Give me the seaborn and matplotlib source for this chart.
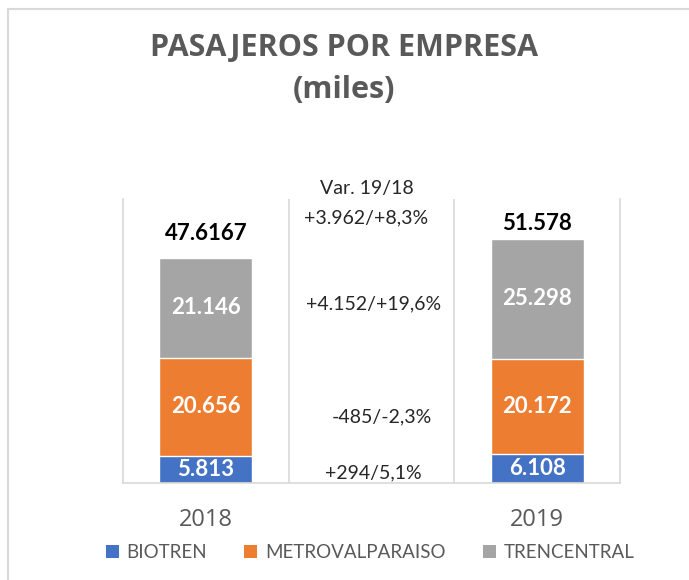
import numpy as np
import pandas as pd
import matplotlib.pyplot as plt
import seaborn as sns
from matplotlib.patches import Patch, Rectangle

# data (miles de pasajeros)
years = ['2018', '2019']
companies = ['BIOTREN', 'METROVALPARAISO', 'TRENCENTRAL']
biotren = [5.813, 6.108]
metroval = [20.656, 20.172]
trencentral = [21.146, 25.298]
total_labels = ['47.6167', '51.578']
segment_labels = [['5.813', '6.108'], ['20.656', '20.172'], ['21.146', '25.298']]
var_title = 'Var. 19/18'
var_labels = ['+3.962/+8,3%', '+4.152/+19,6%', '-485/-2,3%', '+294/5,1%']
colors = ['#4472C4', '#ED7D31', '#A5A5A5']

sns.set_style('white')
plt.rcParams['font.family'] = ['Lato', 'DejaVu Sans']

df = pd.DataFrame({'year': years, 'BIOTREN': biotren,
                   'METROVALPARAISO': metroval, 'TRENCENTRAL': trencentral})
df['c1'] = df['BIOTREN']
df['c2'] = df['c1'] + df['METROVALPARAISO']
df['c3'] = df['c2'] + df['TRENCENTRAL']

order = ['2018', ' ', '2019']

fig = plt.figure(figsize=(6.89, 5.8), dpi=100)
ax = fig.add_axes([0.1785, 0.1672, 0.7214, 0.4897])

# stacked bars: draw tallest first, then overlap
for col, c in zip(['c3', 'c2', 'c1'], colors[::-1]):
    sns.barplot(data=df, x='year', y=col, order=order, color=c, width=0.56,
                saturation=1, errorbar=None, ax=ax)

ax.set_xlim(-0.5, 2.5)
ax.set_ylim(0, 60)
ax.set_yticks([])
ax.set_xlabel('')
ax.set_ylabel('')
ax.set_xticks([0, 2])
ax.set_xticklabels(years, fontsize=17, color='#595959', family=['Open Sans', 'DejaVu Sans'])
ax.tick_params(axis='x', length=0, pad=18)
for s in ['left', 'right', 'bottom']:
    ax.spines[s].set_color('#D9D9D9')
    ax.spines[s].set_linewidth(1.2)
ax.spines['top'].set_visible(False)
for xv in [0.5, 1.5]:
    ax.axvline(xv, color='#D9D9D9', lw=1.2, zorder=0)

# segment labels
xpos = [0, 2]
stack = [df['c1'].values, df['c2'].values, df['c3'].values]
for k in range(3):
    for i in range(2):
        base = stack[k - 1][i] if k > 0 else 0
        ymid = (base + stack[k][i]) / 2
        ax.text(xpos[i], ymid, segment_labels[k][i], ha='center', va='center',
                color='white', fontsize=16, fontweight='bold')

# totals
total_gap = [5.0, 3.2]
for i in range(2):
    ax.text(xpos[i], stack[2][i] + total_gap[i], total_labels[i], ha='center',
            va='center', color='black', fontsize=16, fontweight='bold', clip_on=False)

# variation notes in the empty middle slot
ax.text(0.97, 62.2, var_title, ha='center', va='center', fontsize=14, clip_on=False)
var_pos = [(0.97, 56.0), (1.01, 37.8), (1.06, 14.0), (1.01, 2.1)]
for (vx, vy), t in zip(var_pos, var_labels):
    ax.text(vx, vy, t, ha='center', va='center', fontsize=14)

title_font = ['Open Sans', 'DejaVu Sans']
fig.text(0.5, 0.917, 'PASAJEROS POR EMPRESA', ha='center', va='center',
         fontsize=22, fontweight='bold', color='#595959', family=title_font)
fig.text(0.5, 0.845, '(miles)', ha='center', va='center',
         fontsize=22, fontweight='bold', color='#595959', family=title_font)

handles = [Patch(facecolor=c, edgecolor='none') for c in colors]
fig.legend(handles, companies, loc='center', bbox_to_anchor=(0.537, 0.047), ncol=3,
           frameon=False, fontsize=13.5, labelcolor='#595959', handlelength=0.7,
           handleheight=0.7, handletextpad=0.4, columnspacing=2.0)

# outer chart border
fig.patches.append(Rectangle((8 / 689, -0.1), 1.2, (580 - 9) / 580 + 0.1,
                             transform=fig.transFigure, fill=False,
                             edgecolor='#D9D9D9', lw=1.5))

plt.savefig('out.png', dpi=100)
